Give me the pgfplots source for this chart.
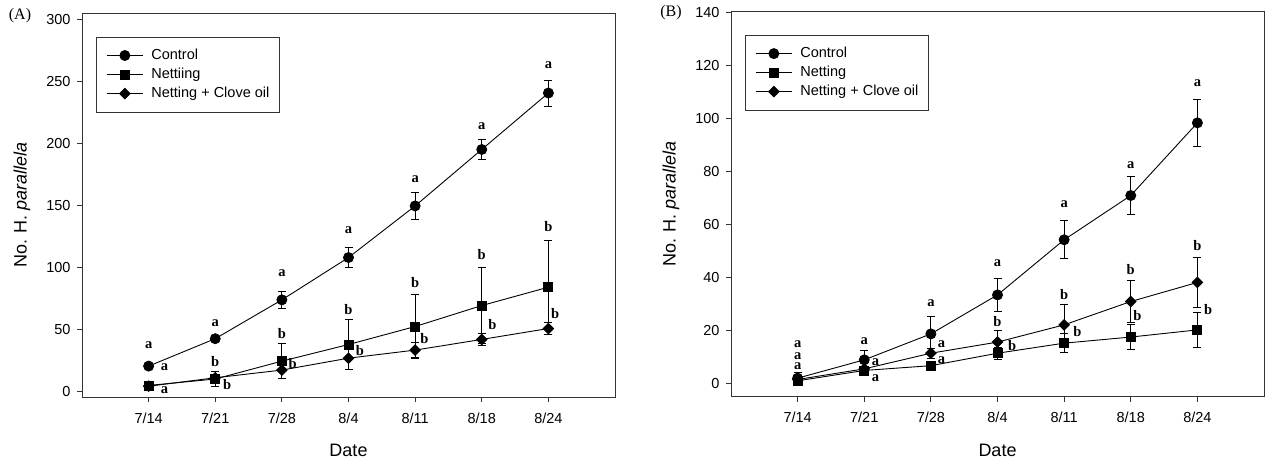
\documentclass[border=0pt]{standalone}
\usepackage{fontspec}
\setmainfont{Liberation Sans}
\newfontfamily\tnr{Liberation Serif}
\usepackage{pgfplots}
\pgfplotsset{compat=1.18}

\newcommand\lett{\tnr\bfseries\fontsize{14.5}{16}\selectfont}

\pgfplotsset{
  panel/.style={
    scale only axis, width=533pt,
    xmin=-1, xmax=7,
    xtick={0,...,6},
    xticklabels={7/14,7/21,7/28,8/4,8/11,8/18,8/24},
    tick align=outside, xtick pos=bottom, ytick pos=left,
    major tick length=5pt,
    axis line style={black!80, line width=0.8pt},
    tick style={black!80, line width=0.8pt},
    tick label style={font=\fontsize{14.5}{17}\selectfont},
    xticklabel style={yshift=-7pt},
    yticklabel style={xshift=-3pt},
    /pgf/number format/assume math mode=true,
    xlabel={Date}, ylabel={No. H. \textit{parallela}},
    label style={font=\fontsize{18}{21}\selectfont},
    xlabel style={at={(axis description cs:0.5,-0.138)}, anchor=center},
    ylabel style={at={(axis description cs:-0.1126,0.5)}, anchor=center},
    clip=false,
    legend cell align=left,
    legend style={at={(axis description cs:0.0263,0.9385)}, anchor=north west,
      draw=black!80, line width=0.8pt, font=\fontsize{14.5}{16}\selectfont,
      inner xsep=10pt, inner ysep=12pt, row sep=6pt, column sep=8pt,
      nodes={inner sep=0pt, text height=10pt, text depth=3pt}},
    legend image code/.code={\draw[mark repeat=2, mark phase=2, #1]
      plot coordinates {(0pt,0pt) (18pt,0pt) (36pt,0pt)};},
  },
  ser/.style={black, line width=0.9pt, mark options={solid, fill=black},
    error bars/.cd, y dir=both, y explicit,
    error bar style={black, line width=0.8pt},
    error mark options={rotate=90, mark size=4pt, line width=0.8pt},
    /pgfplots/.cd},
  letters/.style={forget plot, only marks, mark=none, nodes near coords,
    point meta=explicit symbolic,
    every node near coord/.append style={anchor=center, font=\lett, inner sep=0pt}},
}

\begin{document}
\begin{tikzpicture}
\useasboundingbox (0,0) rectangle (1265pt,463pt);

% (A)
\begin{axis}[panel, at={(82pt,66pt)}, anchor=south west, height=384pt,
  ymin=-4.5, ymax=305, ytick={0,50,...,300}]
\addplot[ser, mark=*, mark size=5pt] coordinates {
  (0,20.4) +- (0,2) (1,42.5) +- (0,2.5) (2,73.8) +- (0,7) (3,107.9) +- (0,7.8)
  (4,149.5) +- (0,11) (5,195) +- (0,8) (6,240.5) +- (0,10.5)};
\addlegendentry{Control}
\addplot[ser, mark=square*, mark size=4.5pt] coordinates {
  (0,4.8) +- (0,1.5) (1,10) +- (0,6) (2,24.4) +- (0,14) (3,37.8) +- (0,20)
  (4,52.3) +- (0,25.5) (5,69.2) +- (0,30.5) (6,84) +- (0,37.8)};
\addlegendentry{Nettiing}
\addplot[ser, mark=square*, mark size=3.7pt, mark options={rotate=45}] coordinates {
  (0,4.2) +- (0,1.5) (1,11) +- (0,2) (2,17.2) +- (0,6.7) (3,26.8) +- (0,9)
  (4,33.3) +- (0,6) (5,41.9) +- (0,5) (6,50.7) +- (0,4.7)};
\addlegendentry{Netting + Clove oil}
\addplot[letters] coordinates {
  (0,37)[a] (0.24,19.3)[a] (0.24,0.8)[a]
  (1,54.7)[a] (1,24)[b] (1.18,5.6)[b]
  (2,95)[a] (2,46.5)[b] (2.16,22.3)[b]
  (3,129.6)[a] (3,66)[b] (3.17,33.3)[b]
  (4,170.7)[a] (4,87.5)[b] (4.14,42.7)[b]
  (5,213.6)[a] (5,110.3)[b] (5.16,54)[b]
  (6,262.7)[a] (6,133)[b] (6.1,62.8)[b]};
\end{axis}

% (B)
\begin{axis}[panel, at={(731pt,66.3pt)}, anchor=south west, height=385.7pt,
  ymin=-5, ymax=140.5, ytick={0,20,...,140}]
\addplot[ser, mark=*, mark size=5pt] coordinates {
  (0,2) +- (0,2) (1,8.9) +- (0,3.4) (2,18.7) +- (0,6.6) (3,33.4) +- (0,6.3)
  (4,54.2) +- (0,7.2) (5,70.9) +- (0,7.3) (6,98.3) +- (0,9)};
\addlegendentry{Control}
\addplot[ser, mark=square*, mark size=4.5pt] coordinates {
  (0,1) +- (0,0.8) (1,4.9) +- (0,1) (2,6.7) +- (0,1) (3,11.4) +- (0,2.2)
  (4,15.2) +- (0,3.5) (5,17.5) +- (0,4.7) (6,20.2) +- (0,6.5)};
\addlegendentry{Netting}
\addplot[ser, mark=square*, mark size=3.7pt, mark options={rotate=45}] coordinates {
  (0,1.5) +- (0,1) (1,5.5) +- (0,1) (2,11.4) +- (0,2) (3,15.6) +- (0,4.3)
  (4,22.1) +- (0,7.6) (5,30.9) +- (0,7.9) (6,38.1) +- (0,9.5)};
\addlegendentry{Netting + Clove oil}
\addplot[letters] coordinates {
  (0,15)[a] (0,10.2)[a] (0,6.4)[a]
  (1,15.8)[a] (1.17,8.1)[a] (1.17,2)[a]
  (2,30.3)[a] (2.16,14.8)[a] (2.16,8.9)[a]
  (3,45.4)[a] (3,23.4)[b] (3.22,14.2)[b]
  (4,67.7)[a] (4,33.4)[b] (4.2,19.6)[b]
  (5,82.2)[a] (5,42.9)[b] (5.1,25.5)[b]
  (6,113.2)[a] (6,51.9)[b] (6.16,28)[b]};
\end{axis}

\node[font=\tnr\fontsize{16}{19}\selectfont] at (20pt,447pt) {(A)};
\node[font=\tnr\fontsize{16}{19}\selectfont] at (671pt,450pt) {(B)};
\end{tikzpicture}
\end{document}
